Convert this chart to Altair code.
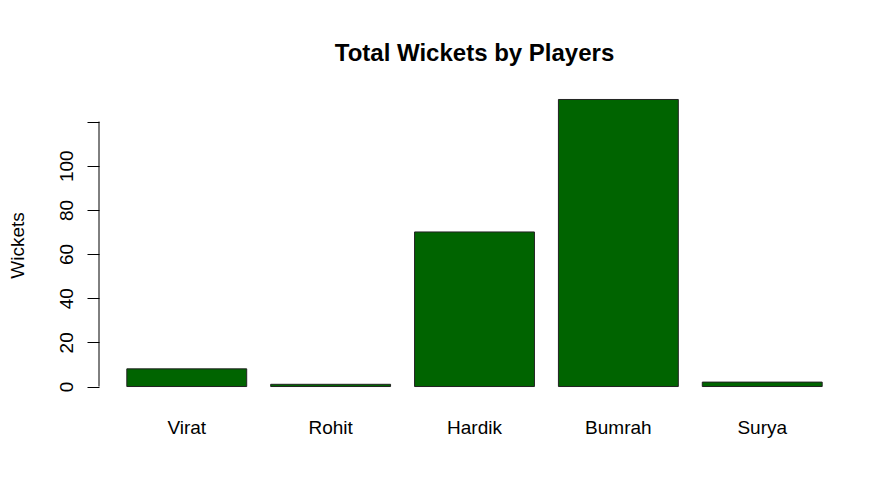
import altair as alt
import pandas as pd

players = ["Virat", "Rohit", "Hardik", "Bumrah", "Surya"]
wickets = [8, 1, 70, 130, 2]
y_ticks = [0, 20, 40, 60, 80, 100, 120]

df = pd.DataFrame({"player": players, "wickets": wickets, "base": [0] * len(players)})

FONT = "Liberation Sans"

x_enc = alt.X(
    "player:N",
    sort=players,
    scale=alt.Scale(paddingInner=0.2 / 1.2, paddingOuter=0.232 / 1.2),
    axis=alt.Axis(
        title=None, domain=False, ticks=False, tickSize=0, labelAngle=0,
        labelFont=FONT, labelFontSize=19, labelColor="black", labelPadding=20,
    ),
)

y_scale = alt.Scale(domain=[-5.2, 135.2], nice=False, zero=False)

bars = alt.Chart(df).mark_bar(
    color="#006400", stroke="#222222", strokeWidth=1
).encode(
    x=x_enc,
    y=alt.Y(
        "wickets:Q",
        scale=y_scale,
        axis=alt.Axis(
            title="Wickets", values=y_ticks, domain=False, grid=False,
            tickColor="black", tickSize=12, tickWidth=1,
            labelAngle=270, labelAlign="center", labelBaseline="bottom",
            labelPadding=11, labelFont=FONT, labelFontSize=19, labelColor="black",
            labelExpr="datum.value == 120 ? '' : datum.label",
            titleFont=FONT, titleFontSize=19, titleFontWeight="normal", titleColor="black",
            titleAngle=270, titleAlign="center", titleBaseline="middle",
            titleX=-82, titleY=157,
        ),
    ),
    y2=alt.Y2("base:Q"),
)

axis_line = alt.Chart(pd.DataFrame({"lo": [y_ticks[0]], "hi": [y_ticks[-1]]})).mark_rule(
    color="black", strokeWidth=1
).encode(
    x=alt.value(0),
    y=alt.Y("lo:Q", scale=y_scale),
    y2="hi:Q",
)

chart = alt.layer(bars, axis_line).properties(
    width=751,
    height=310,
    padding={"left": 91, "top": 80, "right": 20, "bottom": 80},
    autosize=alt.AutoSizeParams(type="none"),
    background="white",
    title=alt.TitleParams(
        "Total Wickets by Players", font=FONT, fontSize=24, fontWeight="bold",
        color="black", anchor="middle", baseline="alphabetic", offset=3,
    ),
).configure_view(stroke=None)

chart.save("out.html", embed_options={"renderer": "svg", "actions": False})
